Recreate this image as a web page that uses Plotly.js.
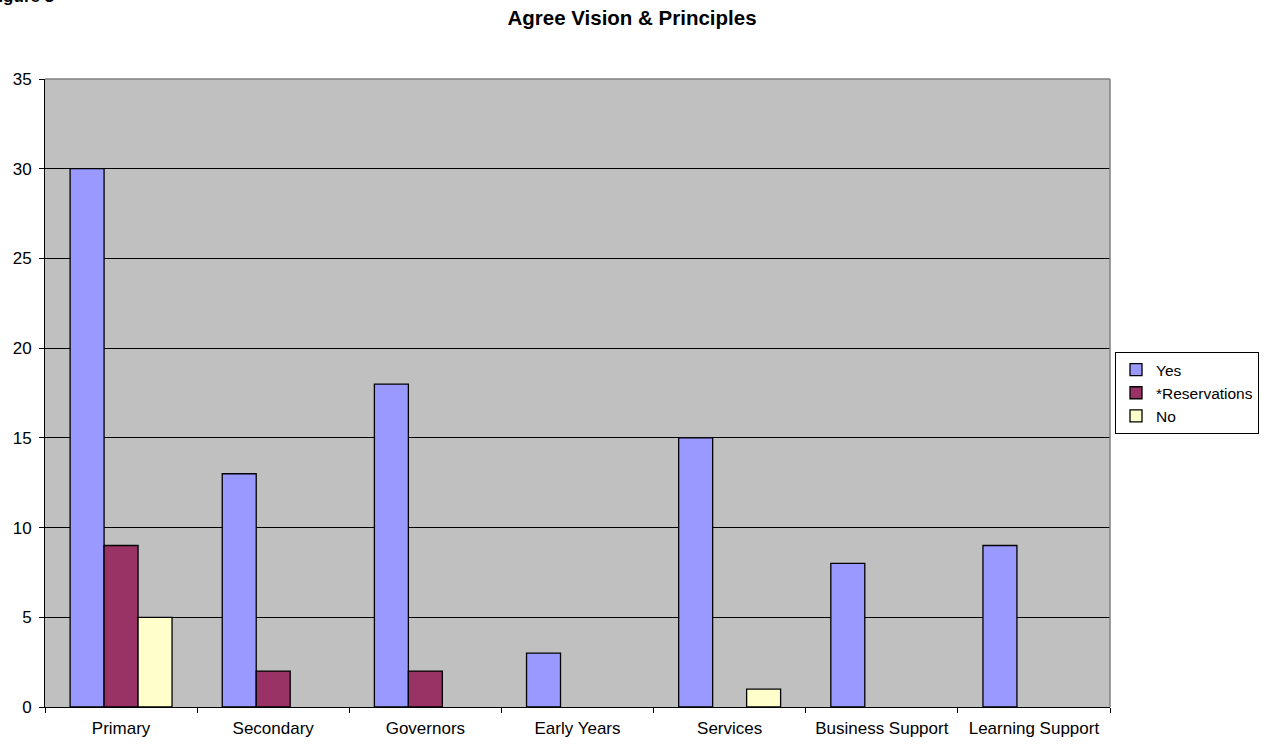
<!DOCTYPE html>
<html>
<head>
<meta charset="utf-8">
<script src="https://cdn.plot.ly/plotly-3.0.1.min.js"></script>
<style>html,body{margin:0;padding:0;background:#fff;overflow:hidden}</style>
</head>
<body>
<div id="chart" style="width:1264px;height:746px"></div>
<script>
const categories = ["Primary", "Secondary", "Governors", "Early Years", "Services", "Business Support", "Learning Support"];
const yesValues = [30, 13, 18, 3, 15, 8, 9];
const reservationsValues = [9, 2, 2, 0, 0, 0, 0];
const noValues = [5, 0, 0, 0, 1, 0, 0];
const seriesNames = ["Yes", "*Reservations", "No"];
const yTicks = [0, 5, 10, 15, 20, 25, 30, 35];

const font = "Liberation Sans, Arial, sans-serif";
const colors = ["#9999FF", "#993366", "#FFFFCC"];
const series = [yesValues, reservationsValues, noValues];

const traces = series.map((vals, i) => ({
  type: "bar",
  name: seriesNames[i],
  x: categories,
  // zero-valued bars are not drawn in the reference (no outline at baseline)
  y: vals.map(v => (v === 0 ? null : v)),
  marker: {color: colors[i], line: {color: "#000000", width: 1.3}},
  hoverinfo: "x+y+name"
}));

const layout = {
  width: 1264,
  height: 746,
  margin: {l: 45, r: 154, t: 79, b: 39, autoexpand: false},
  paper_bgcolor: "#FFFFFF",
  plot_bgcolor: "#C0C0C0",
  font: {family: font, size: 17, color: "#000000"},
  barmode: "group",
  bargap: 0.33,
  bargroupgap: 0,
  title: {
    text: "<b>Agree Vision & Principles</b>",
    font: {family: font, size: 20.5, color: "#000000"},
    x: 0.5, xref: "container", xanchor: "center",
    y: 1 - 18 / 746, yref: "container", yanchor: "middle"
  },
  xaxis: {
    type: "category",
    showgrid: false,
    showline: true, linecolor: "#000000", linewidth: 1,
    ticks: "outside", tickson: "boundaries", ticklen: 5, tickcolor: "#000000",
    tickfont: {family: font, size: 17},
    ticklabelstandoff: 6,
    zeroline: false,
    fixedrange: true
  },
  yaxis: {
    range: [0, 35],
    tickvals: yTicks,
    showgrid: true, gridcolor: "#000000", gridwidth: 1,
    showline: true, linecolor: "#000000", linewidth: 1,
    ticks: "outside", ticklen: 5, tickcolor: "#000000",
    tickfont: {family: font, size: 17},
    ticklabelstandoff: 4,
    zeroline: false,
    fixedrange: true
  },
  showlegend: true,
  legend: {
    x: (1115 - 45) / 1065, xanchor: "left",
    y: (707 - 393) / 628, yanchor: "middle",
    bgcolor: "#FFFFFF",
    bordercolor: "#000000", borderwidth: 1,
    font: {family: font, size: 15.5},
    tracegroupgap: 0,
    itemwidth: 30
  },
  shapes: [
    {type: "line", xref: "paper", yref: "paper", x0: 0, x1: 1, y0: 1, y1: 1, line: {color: "#808080", width: 1.5}},
    {type: "line", xref: "paper", yref: "paper", x0: 1, x1: 1, y0: 0, y1: 1, line: {color: "#808080", width: 1.5}}
  ],
  annotations: [
    {
      text: "<b>Figure 3</b>",
      xref: "paper", yref: "paper",
      x: (56 - 45) / 1065, xanchor: "right",
      y: (707 - 8) / 628, yanchor: "bottom",
      showarrow: false,
      font: {family: font, size: 17, color: "#000000"}
    }
  ]
};

Plotly.newPlot("chart", traces, layout, {displayModeBar: false, staticPlot: false});
</script>
</body>
</html>
